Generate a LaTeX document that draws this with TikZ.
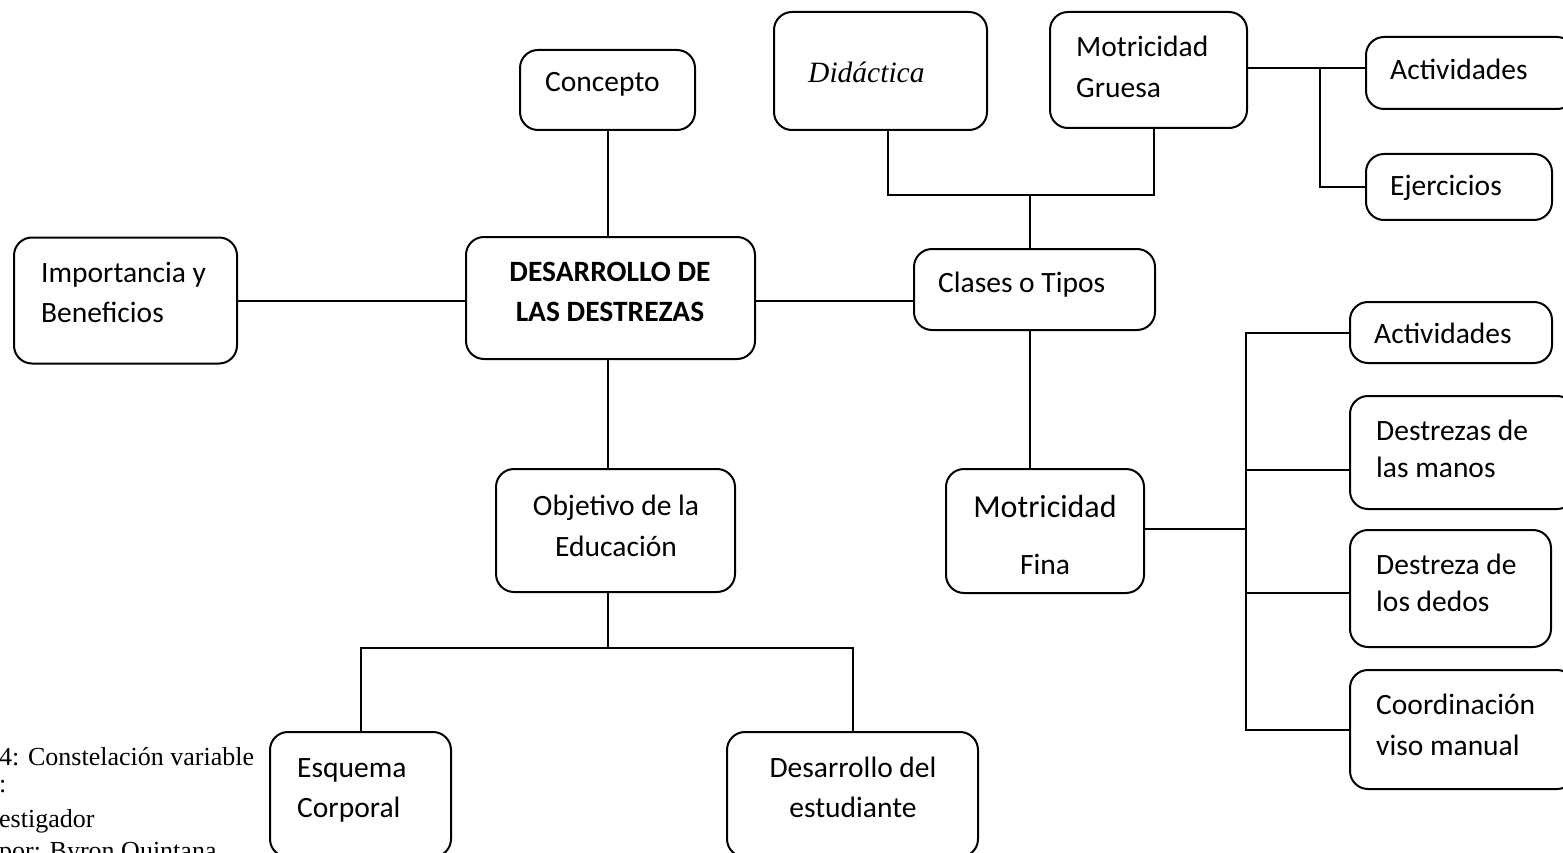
\documentclass[tikz,border=0pt]{standalone}
\usepackage{fontspec}
\setmainfont{Carlito}
\newfontfamily\capfont{Liberation Serif}
\begin{document}
\begin{tikzpicture}[x=1pt,y=-1pt,
  box/.style={draw=black, line width=2pt, rounded corners=18pt, inner sep=0pt},
  conn/.style={draw=black, line width=2pt},
  tl/.style={anchor=base west, inner sep=0pt, font=\fontsize{29.5}{34}\selectfont},
  tc/.style={anchor=base, inner sep=0pt, font=\fontsize{29.5}{34}\selectfont},
  captxt/.style={anchor=base west, inner sep=0pt, font=\capfont\fontsize{26}{30}\selectfont}]
\useasboundingbox (0,0) rectangle (1563,853);
\clip (0,0) rectangle (1563,853);
% boxes
\node[box, minimum width=175pt, minimum height=80pt] (concepto) at (607.5,90) {};
\node[box, minimum width=213pt, minimum height=118pt] (didactica) at (880.5,71) {};
\node[box, minimum width=197pt, minimum height=116pt] (gruesa) at (1148.5,70) {};
\node[box, minimum width=209pt, minimum height=72pt] (act1) at (1470.5,73) {};
\node[box, minimum width=186pt, minimum height=66pt] (ejer) at (1459,187) {};
\node[box, minimum width=241pt, minimum height=81pt] (clases) at (1034.5,289.5) {};
\node[box, minimum width=289pt, minimum height=122pt] (desarrollo) at (610.5,298) {};
\node[box, minimum width=223pt, minimum height=126pt] (importancia) at (125.5,300.5) {};
\node[box, minimum width=239pt, minimum height=123pt] (objetivo) at (615.5,530.5) {};
\node[box, minimum width=181pt, minimum height=125pt] (esquema) at (360.5,794.5) {};
\node[box, minimum width=251pt, minimum height=125pt] (desest) at (852.5,794.5) {};
\node[box, minimum width=198pt, minimum height=124pt] (fina) at (1045,531) {};
\node[box, minimum width=202pt, minimum height=61pt] (act2) at (1451,332.5) {};
\node[box, minimum width=225pt, minimum height=113pt] (manos) at (1462.5,452.5) {};
\node[box, minimum width=201pt, minimum height=117pt] (dedos) at (1450.5,588.5) {};
\node[box, minimum width=225pt, minimum height=119pt] (coord) at (1462.5,729.5) {};
% texts
\node[tl] (t1) at (545,92) {Concepto};
\node[anchor=base west, inner sep=0pt, font=\capfont\itshape\fontsize{29.5}{34}\selectfont] (t2) at (808,83) {Didáctica};
\node[tl] (t3) at (1076,57) {Motricidad};
\node[tl] (t4) at (1076,98) {Gruesa};
\node[tl] (t5) at (1390,80) {Actividades};
\node[tl] (t6) at (1390,196) {Ejercicios};
\node[tl] (t7) at (938,292) {Clases o Tipos};
\node[tc, font=\bfseries\fontsize{29.5}{34}\selectfont] (t8) at (610,281) {DESARROLLO DE};
\node[tc, font=\bfseries\fontsize{29.5}{34}\selectfont] (t9) at (610,321) {LAS DESTREZAS};
\node[tl] (t10) at (41,282) {Importancia y};
\node[tl] (t11) at (41,322) {Beneficios};
\node[tc] (t12) at (616,515) {Objetivo de la};
\node[tc] (t13) at (616,556) {Educación};
\node[tl] (t14) at (297,777) {Esquema};
\node[tl] (t15) at (297,817) {Corporal};
\node[tc] (t16) at (853,777) {Desarrollo del};
\node[tc] (t17) at (853,817) {estudiante};
\node[tc, font=\fontsize{32}{38}\selectfont] (t18) at (1045,517) {Motricidad};
\node[tc] (t19) at (1045,574) {Fina};
\node[tl] (t20) at (1374,343) {Actividades};
\node[tl] (t21) at (1376,440) {Destrezas de};
\node[tl] (t22) at (1376,477) {las manos};
\node[tl] (t23) at (1376,574) {Destreza de};
\node[tl] (t24) at (1376,611) {los dedos};
\node[tl] (t25) at (1376,714) {Coordinación};
\node[tl] (t26) at (1376,755) {viso manual};
% caption fragments
\node[captxt] (c1) at (-1,765) {4: Constelación variable};
\node[captxt] (c2) at (-1,792) {:};
\node[captxt] (c3) at (-1,827) {estigador};
\node[captxt] (c4) at (-1,859) {por: Byron Quintana};
% junctions
\coordinate (jdl) at (888,195);
\coordinate (jgr) at (1154,195);
\coordinate (jt) at (1030,195);
\coordinate (jg) at (1320,68);
\coordinate (jc) at (914,301);
\coordinate (jf) at (1246,529);
\coordinate (bm) at (1246,470);
\coordinate (bd) at (1246,593);
\coordinate (jo) at (608,648);
% connectors
\draw[conn] (concepto.south) -- (concepto.south |- desarrollo.north);
\draw[conn] (importancia.east) -- (importancia.east -| desarrollo.west);
\draw[conn] (jc -| desarrollo.east) -- (jc -| clases.west);
\draw[conn] (jdl |- didactica.south) -- (jdl) -- (jgr) -- (jgr |- gruesa.south);
\draw[conn] (jt) -- (jt |- clases.north);
\draw[conn] (gruesa.east |- jg) -- (jg) -- (jg -| act1.west);
\draw[conn] (jg) |- (ejer.west);
\draw[conn] (jt |- clases.south) -- (jt |- fina.north);
\draw[conn] (jf -| fina.east) -- (jf);
\draw[conn] (act2.west) -| (jf);
\draw[conn] (coord.west) -| (jf);
\draw[conn] (bm) -- (bm -| manos.west);
\draw[conn] (bd) -- (bd -| dedos.west);
\draw[conn] (jo |- desarrollo.south) -- (jo |- objetivo.north);
\draw[conn] (jo |- objetivo.south) -- (jo);
\draw[conn] (esquema.north) |- (jo) -| (desest.north);
\end{tikzpicture}
\end{document}
